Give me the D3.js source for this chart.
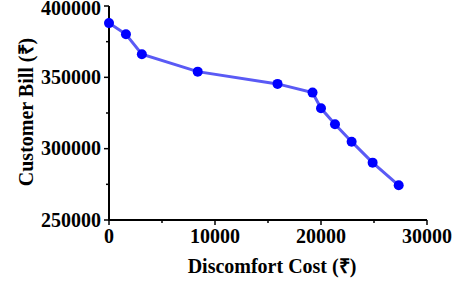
<!DOCTYPE html>
<html><head><meta charset="utf-8">
<script src="https://cdn.jsdelivr.net/npm/d3@7"></script>
<style>body{margin:0;background:#fff}svg{display:block}</style>
</head><body>
<svg id="c" width="459" height="283"></svg>
<script>
const discomfortCost = [0, 1600, 3100, 8370, 15900, 19200, 20000, 21320, 22890, 24870, 27330];
const customerBill = [388000, 380200, 366200, 354000, 345400, 339300, 328300, 317100, 304900, 290200, 274300];
const xTicks = [0, 10000, 20000, 30000];
const yTicks = [250000, 300000, 350000, 400000];
const xTitle = "Discomfort Cost (₹)";
const yTitle = "Customer Bill (₹)";

const svg = d3.select("#c");
const font = "'Liberation Serif','Times New Roman',serif";
const x = d3.scaleLinear().domain([0, 30000]).range([109, 427]);
const y = d3.scaleLinear().domain([250000, 400000]).range([220, 6]);

const gx = svg.append("g").attr("transform", "translate(0,220)");
gx.selectAll("line.m").data(d3.range(0, 30001, 5000)).join("line")
  .attr("x1", d => x(d)).attr("x2", d => x(d)).attr("y1", 0).attr("y2", d => d % 10000 === 0 ? 5 : 3)
  .attr("stroke", "#000").attr("stroke-width", 1.5);
gx.append("line").attr("x1", 108).attr("x2", x(30000)).attr("stroke", "#000").attr("stroke-width", 2);
gx.selectAll("text").data(xTicks).join("text")
  .attr("x", d => x(d)).attr("y", 23).attr("text-anchor", "middle")
  .attr("font-family", font).attr("font-weight", "bold").attr("font-size", 20)
  .text(d => d);

const gy = svg.append("g").attr("transform", "translate(109,0)");
gy.selectAll("line.m").data(d3.range(250000, 400001, 25000)).join("line")
  .attr("y1", d => y(d)).attr("y2", d => y(d)).attr("x1", 0).attr("x2", d => d % 50000 === 0 ? -5 : -3)
  .attr("stroke", "#000").attr("stroke-width", 1.5);
gy.append("line").attr("y1", y(400000)).attr("y2", 221).attr("stroke", "#000").attr("stroke-width", 2);
gy.selectAll("text").data(yTicks).join("text")
  .attr("x", -8).attr("y", d => Math.max(y(d) + 6.5, 15)).attr("text-anchor", "end")
  .attr("font-family", font).attr("font-weight", "bold").attr("font-size", 20)
  .text(d => d);

svg.append("text").attr("x", 272).attr("y", 273).attr("text-anchor", "middle")
  .attr("font-family", font).attr("font-weight", "bold").attr("font-size", 20).text(xTitle);
svg.append("text").attr("transform", "translate(33,112) rotate(-90)").attr("text-anchor", "middle")
  .attr("font-family", font).attr("font-weight", "bold").attr("font-size", 20).text(yTitle);

const pts = discomfortCost.map((d, i) => [d, customerBill[i]]);
svg.append("path").datum(pts)
  .attr("d", d3.line().x(d => x(d[0])).y(d => y(d[1])))
  .attr("fill", "none").attr("stroke", "#5a5af5").attr("stroke-width", 3);
svg.selectAll("circle").data(pts).join("circle")
  .attr("cx", d => x(d[0])).attr("cy", d => y(d[1])).attr("r", 5)
  .attr("fill", "#0000ff");
</script>
</body></html>
